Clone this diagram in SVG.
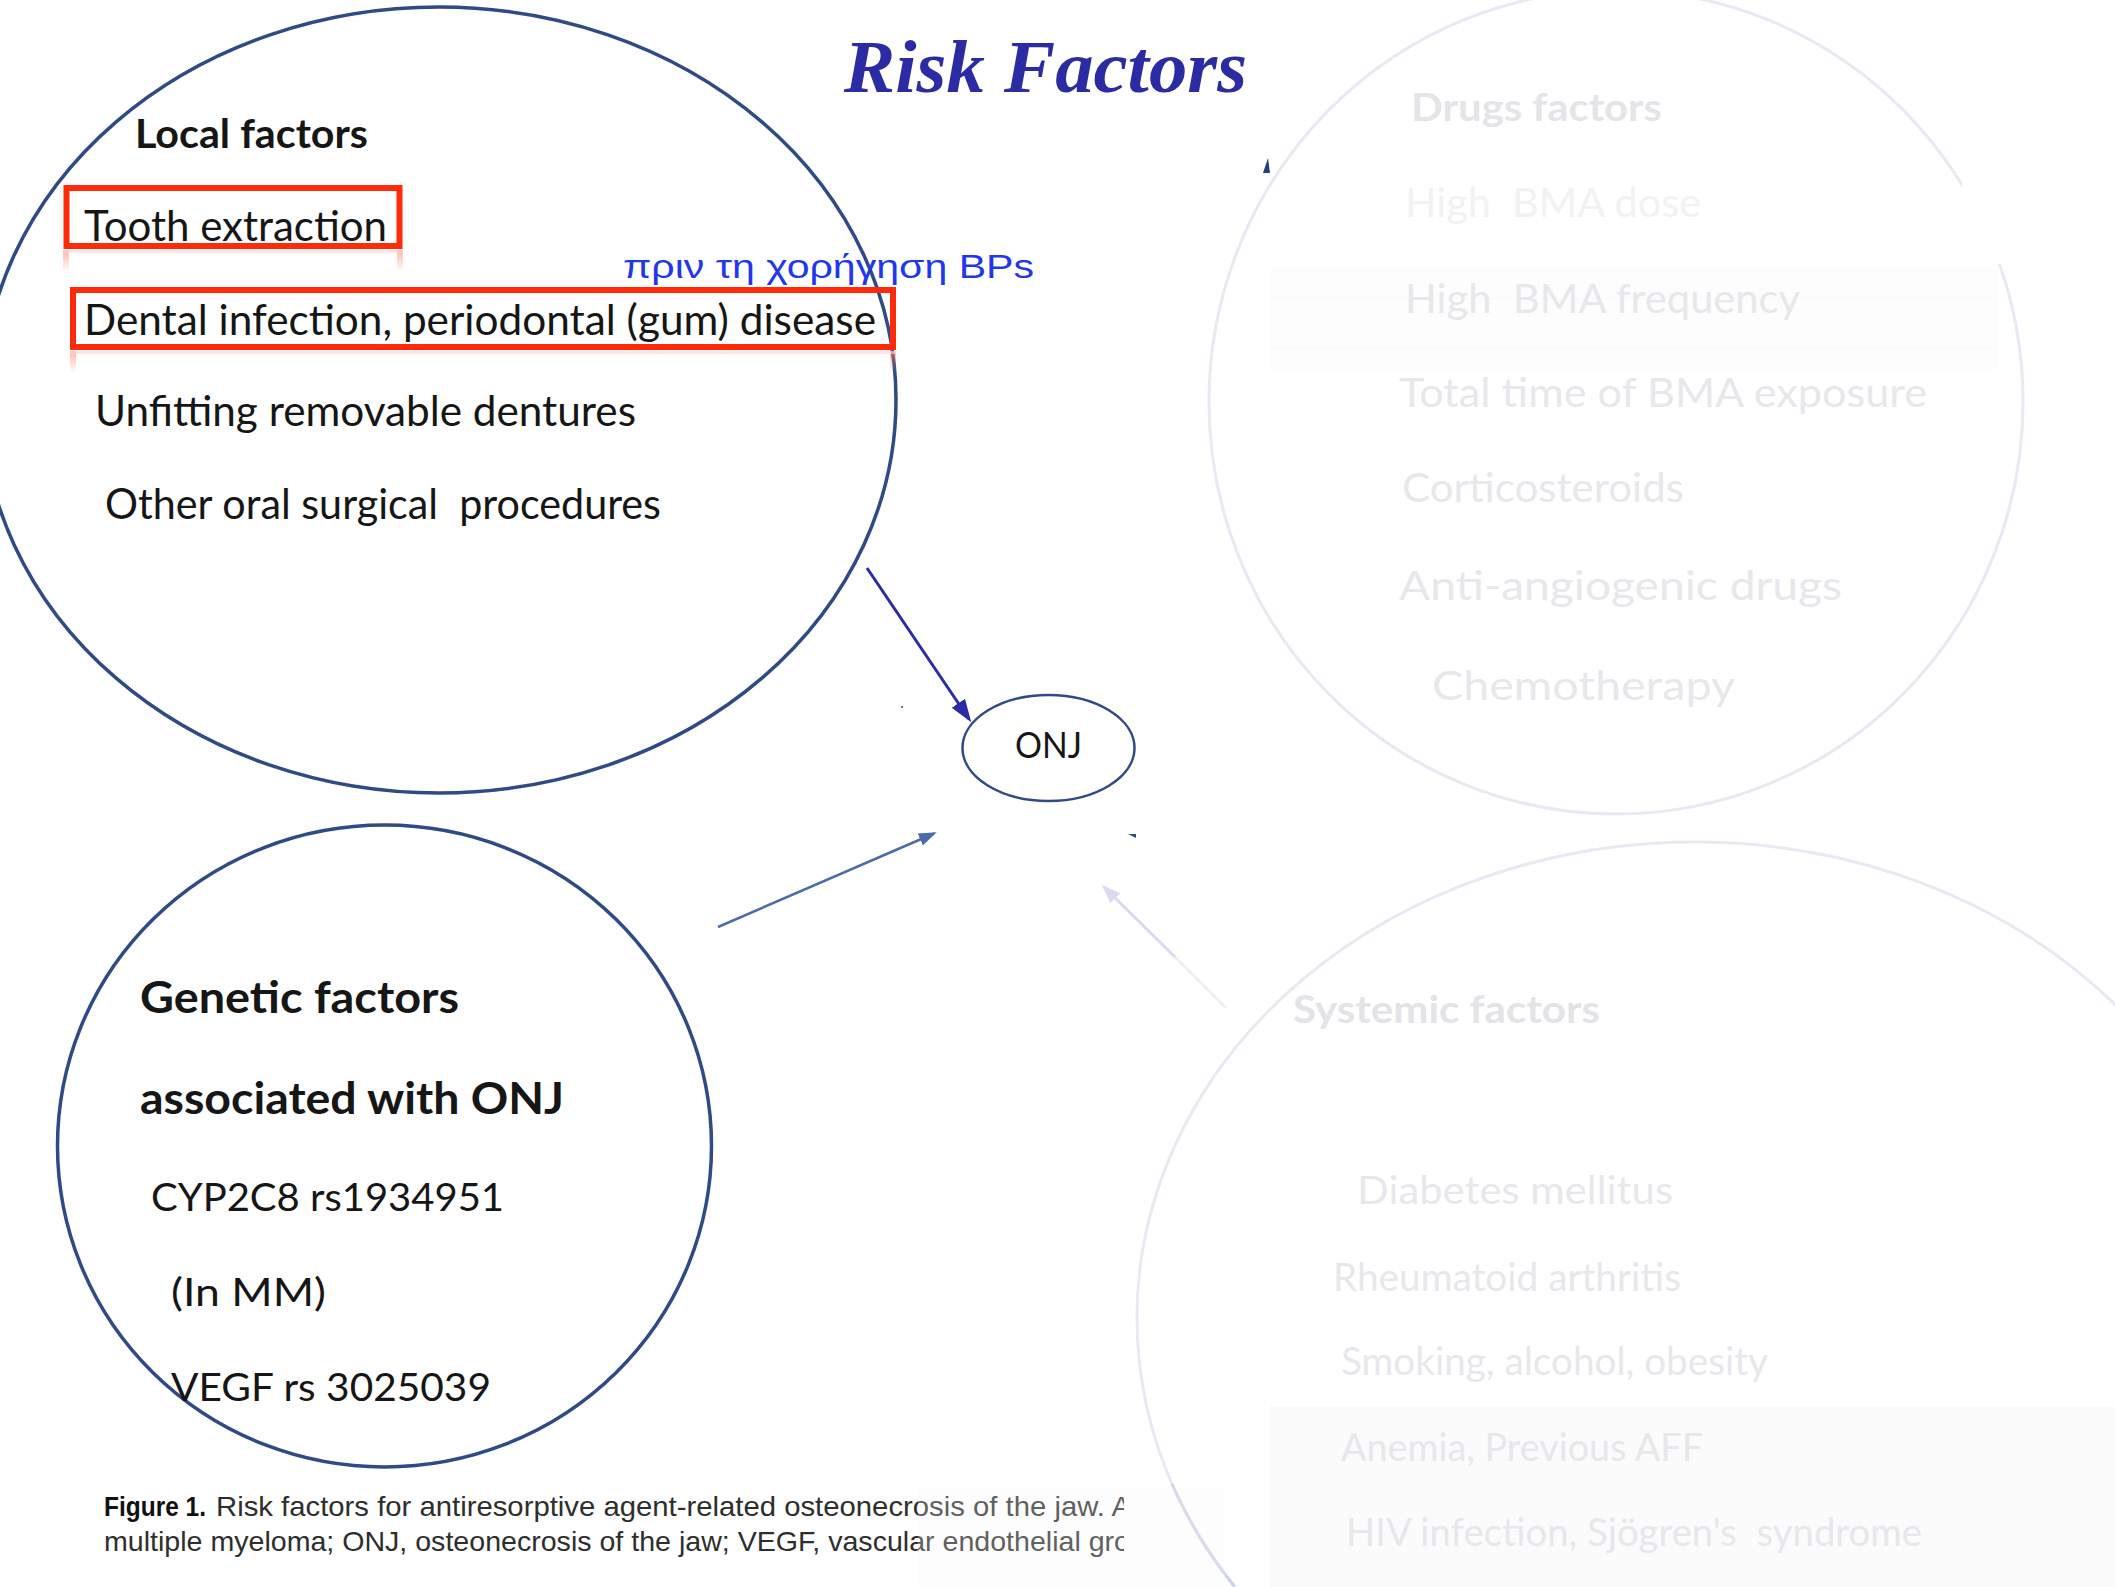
<svg xmlns="http://www.w3.org/2000/svg" width="2115" height="1587" viewBox="0 0 2115 1587">
<style>
.sans{font-family:Lato,"Open Sans","Noto Sans",sans-serif}
.b{font-weight:bold}
.dark{fill:#161616}
.faint{fill:#e7e7ec}
.faint2{fill:#f2f2f5}
.ring{fill:none;stroke:#2f4b87;stroke-width:3.5}
.ghost{fill:none;stroke:#e8e9f2;stroke-width:3}
.redbox{fill:none;stroke:#ff2a0a;stroke-width:6}
.cap{font-family:"Liberation Sans Narrow","Liberation Sans",Arial,sans-serif;font-size:28px}
</style>
<defs>
<marker id="ah1" markerUnits="userSpaceOnUse" markerWidth="24" markerHeight="18" refX="19" refY="8" orient="auto"><path d="M0,0 L23,8 L0,16 z" fill="#2b2ba8"/></marker>
<marker id="ah2" markerUnits="userSpaceOnUse" markerWidth="20" markerHeight="14" refX="15" refY="6.5" orient="auto"><path d="M0,0 L18,6.5 L0,13 z" fill="#4a6cab"/></marker>
<marker id="ah3" markerUnits="userSpaceOnUse" markerWidth="22" markerHeight="16" refX="16" refY="7" orient="auto"><path d="M0,0 L19,7 L0,14 z" fill="#d9d9ef"/></marker>
<linearGradient id="refl" x1="0" y1="0" x2="0" y2="1"><stop offset="0" stop-color="#ff7a66" stop-opacity="0.55"/><stop offset="1" stop-color="#ff7a66" stop-opacity="0"/></linearGradient>
<clipPath id="capclip"><rect x="0" y="1470" width="1124" height="117"/></clipPath>
</defs>
<rect width="2115" height="1587" fill="#ffffff"/>

<g id="drugs-factors">
<rect x="1270" y="267" width="728" height="103" fill="#fdfdfd"/>
<line x1="1270" y1="298" x2="1998" y2="298" stroke="#f8f8fa" stroke-width="1"/>
<line x1="1270" y1="348" x2="1998" y2="348" stroke="#f8f8fa" stroke-width="1"/>
<ellipse class="ghost" cx="1616" cy="402" rx="407" ry="412"/>
<rect x="1962" y="168" width="40" height="96" fill="#ffffff"/>
<path d="M1263,173 L1268,158 L1270,173 z" fill="#23407e"/>
<text class="sans b faint" x="1411" y="121" font-size="38" textLength="251" lengthAdjust="spacingAndGlyphs" style="fill:#e4e4e9">Drugs factors</text>
<text class="sans faint2" x="1405" y="217" font-size="41" textLength="296" lengthAdjust="spacingAndGlyphs" xml:space="preserve">High  BMA dose</text>
<text class="sans faint" x="1405" y="313" font-size="41" textLength="395" lengthAdjust="spacingAndGlyphs" xml:space="preserve">High  BMA frequency</text>
<text class="sans faint" x="1399" y="407" font-size="41" textLength="528" lengthAdjust="spacingAndGlyphs">Total time of BMA exposure</text>
<text class="sans faint" x="1402" y="502" font-size="41" textLength="282" lengthAdjust="spacingAndGlyphs">Corticosteroids</text>
<text class="sans faint" x="1399" y="600" font-size="41" textLength="443" lengthAdjust="spacingAndGlyphs">Anti-angiogenic drugs</text>
<text class="sans faint" x="1432" y="700" font-size="41" textLength="303" lengthAdjust="spacingAndGlyphs">Chemotherapy</text>
</g>

<g id="systemic-factors">
<rect x="1269" y="1406" width="846" height="181" fill="#fbfbfc"/>
<ellipse class="ghost" cx="1695" cy="1318" rx="558" ry="476"/>
<path d="M1172,1484 A558,476 0 0 0 1235,1587" fill="none" stroke="#cdd2e6" stroke-width="3"/>
<text class="sans b faint" x="1293" y="1023" font-size="38" textLength="307" lengthAdjust="spacingAndGlyphs" style="fill:#e3e3e8">Systemic factors</text>
<text class="sans faint" x="1357" y="1204" font-size="38" textLength="316" lengthAdjust="spacingAndGlyphs">Diabetes mellitus</text>
<text class="sans faint" x="1333" y="1291" font-size="38" textLength="348" lengthAdjust="spacingAndGlyphs">Rheumatoid arthritis</text>
<text class="sans faint" x="1341" y="1375" font-size="38" textLength="427" lengthAdjust="spacingAndGlyphs">Smoking, alcohol, obesity</text>
<text class="sans faint" x="1341" y="1461" font-size="38" textLength="362" lengthAdjust="spacingAndGlyphs">Anemia, Previous AFF</text>
<text class="sans faint" x="1346" y="1546" font-size="38" textLength="576" lengthAdjust="spacingAndGlyphs" xml:space="preserve">HIV infection, Sjögren's  syndrome</text>
</g>

<g id="caption">
<g clip-path="url(#capclip)">
<text class="cap b" x="104" y="1516" textLength="102" lengthAdjust="spacingAndGlyphs" fill="#111111">Figure 1.</text>
<text class="cap" x="216" y="1516" textLength="915" lengthAdjust="spacingAndGlyphs" fill="#2e2e2e">Risk factors for antiresorptive agent-related osteonecrosis of the jaw. A</text>
<text class="cap" x="104" y="1551" textLength="1026" lengthAdjust="spacingAndGlyphs" fill="#2e2e2e">multiple myeloma; ONJ, osteonecrosis of the jaw; VEGF, vascular endothelial gro</text>
</g>
<rect x="918" y="1487" width="307" height="100" fill="#f6f6f9" fill-opacity="0.25"/>
</g>

<g id="title">
<text x="844" y="92" font-family="'Liberation Serif','Times New Roman',serif" font-weight="bold" font-style="italic" font-size="74" textLength="403" lengthAdjust="spacingAndGlyphs" fill="#2b2ba3">Risk Factors</text>
</g>

<g id="local-factors">
<ellipse class="ring" cx="439" cy="400" rx="457" ry="393"/>
<rect class="redbox" x="66.5" y="188" width="333" height="58"/>
<rect class="redbox" x="73" y="290" width="820" height="57"/>
<rect x="63" y="250" width="6" height="22" fill="url(#refl)"/>
<rect x="397" y="250" width="6" height="22" fill="url(#refl)"/>
<rect x="63" y="250" width="340" height="3" fill="#ffd6cf" opacity="0.6"/>
<rect x="70" y="351" width="6" height="22" fill="url(#refl)"/>
<rect x="890" y="351" width="6" height="22" fill="url(#refl)"/>
<rect x="70" y="351" width="826" height="3" fill="#ffd6cf" opacity="0.6"/>
<text class="sans b dark" x="135" y="148" font-size="40" textLength="233" lengthAdjust="spacingAndGlyphs">Local factors</text>
<text class="sans dark" x="84" y="241" font-size="42" textLength="303" lengthAdjust="spacingAndGlyphs">Tooth extraction</text>
<text class="sans dark" x="84" y="335" font-size="42" textLength="792" lengthAdjust="spacingAndGlyphs">Dental infection, periodontal (gum) disease</text>
<text class="sans dark" x="95" y="426" font-size="42" textLength="541" lengthAdjust="spacingAndGlyphs">Unfitting removable dentures</text>
<text class="sans dark" x="105" y="519" font-size="42" textLength="556" lengthAdjust="spacingAndGlyphs" xml:space="preserve">Other oral surgical  procedures</text>
</g>

<g id="note">
<text x="623" y="278" font-family="'Liberation Sans',Arial,sans-serif" font-size="34" textLength="411" lengthAdjust="spacingAndGlyphs" fill="#1f38ee">πριν τη χορήγηση BPs</text>
</g>

<g id="genetic-factors">
<ellipse class="ring" cx="384.5" cy="1146" rx="327" ry="321"/>
<text class="sans b dark" x="140" y="1013" font-size="43" textLength="319" lengthAdjust="spacingAndGlyphs">Genetic factors</text>
<text class="sans b dark" x="140" y="1114" font-size="43" textLength="424" lengthAdjust="spacingAndGlyphs">associated with ONJ</text>
<text class="sans dark" x="151" y="1211" font-size="39" textLength="353" lengthAdjust="spacingAndGlyphs">CYP2C8 rs1934951</text>
<text class="sans dark" x="171" y="1306" font-size="39" textLength="155" lengthAdjust="spacingAndGlyphs">(In MM)</text>
<text class="sans dark" x="171" y="1401" font-size="39" textLength="320" lengthAdjust="spacingAndGlyphs">VEGF rs 3025039</text>
</g>

<g id="connectors">
<line x1="867" y1="568" x2="969" y2="719" stroke="#2b2ba8" stroke-width="3" marker-end="url(#ah1)"/>
<line x1="718" y1="927" x2="934" y2="833.5" stroke="#4a6cab" stroke-width="2.5" marker-end="url(#ah2)"/>
<line x1="1226" y1="1008" x2="1175" y2="957" stroke="#efeff7" stroke-width="3"/>
<line x1="1175" y1="957" x2="1104" y2="887" stroke="#d9d9ef" stroke-width="3" marker-end="url(#ah3)"/>
<path d="M1128,834 L1136,834 L1136,838 z" fill="#2f4b87"/>
<circle cx="902" cy="707" r="1" fill="#2f4b87"/>
</g>

<g id="onj">
<ellipse cx="1048.5" cy="748" rx="86" ry="53" fill="#ffffff" stroke="#2f4b87" stroke-width="2.5"/>
<text class="sans dark" x="1048.5" y="758" font-size="36" text-anchor="middle" textLength="67" lengthAdjust="spacingAndGlyphs">ONJ</text>
</g>
</svg>
